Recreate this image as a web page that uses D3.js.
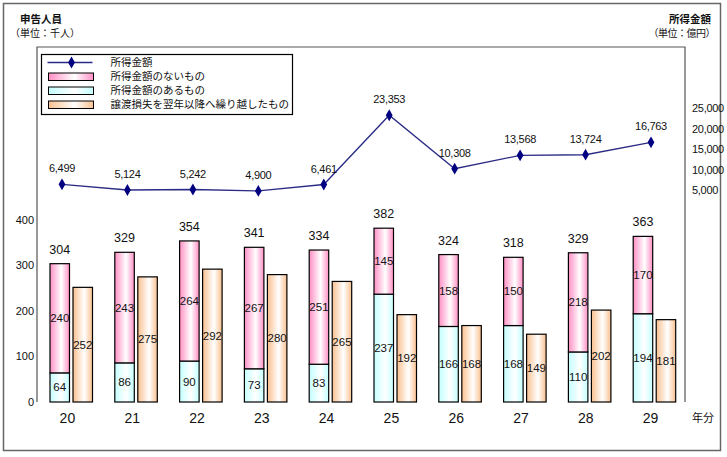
<!DOCTYPE html>
<html>
<head>
<meta charset="utf-8">
<script src="https://cdn.jsdelivr.net/npm/d3@7"></script>
<style>
  body { margin: 0; background: #fff; }
  text { font-family: "Liberation Sans", "Noto Sans CJK JP", sans-serif; }
  .jp { font-family: "Noto Sans CJK JP", sans-serif; }
</style>
</head>
<body>
<svg id="chart"></svg>
<script>
// Data
const years = ["20", "21", "22", "23", "24", "25", "26", "27", "28", "29"];
const withIncome = [64, 86, 90, 73, 83, 237, 166, 168, 110, 194];      // 所得金額のあるもの
const noIncome = [240, 243, 264, 267, 251, 145, 158, 150, 218, 170];   // 所得金額のないもの
const totals = [304, 329, 354, 341, 334, 382, 324, 318, 329, 363];
const carriedLoss = [252, 275, 292, 280, 265, 192, 168, 149, 202, 181]; // 譲渡損失を翌年以降へ繰り越したもの
const incomeAmount = [6499, 5124, 5242, 4900, 6461, 23353, 10308, 13568, 13724, 16763]; // 所得金額(億円)
const leftTicks = [0, 100, 200, 300, 400];
const rightTicks = [5000, 10000, 15000, 20000, 25000];

const width = 727;
const height = 457;
const svg = d3.select("#chart").attr("width", width).attr("height", height);

// Gradients
const defs = svg.append("defs");
function gradient(id, color) {
  const g = defs.append("linearGradient").attr("id", id)
    .attr("x1", "0%").attr("x2", "100%").attr("y1", "0%").attr("y2", "0%");
  g.append("stop").attr("offset", "0%").attr("stop-color", color);
  g.append("stop").attr("offset", "58%").attr("stop-color", "#ffffff");
  g.append("stop").attr("offset", "100%").attr("stop-color", color);
}
gradient("gPink", "#ff8fc4");
gradient("gCyan", "#c4ffff");
gradient("gOrange", "#f9c08f");

// Outer border
svg.append("rect").attr("x", 3.5).attr("y", 3.5).attr("width", 717).attr("height", 447)
  .attr("fill", "none").attr("stroke", "#666").attr("stroke-width", 1.5);

// Scales
const plotLeft = 37, plotRight = 685, plotTop = 47, plotBottom = 402;
const x = d3.scaleBand().domain(years).range([plotLeft, plotRight]);
const xLine = d3.scalePoint().domain(years).range([62, 651]);
const y = d3.scaleLinear().domain([0, 400]).range([plotBottom, 220]);
const y2 = d3.scaleLinear().domain([0, 40000]).range([211, plotTop]);

// Plot frame
svg.append("path")
  .attr("d", `M${plotLeft},${plotBottom}V${plotTop}H${plotRight}V${plotBottom}`)
  .attr("fill", "none").attr("stroke", "#555").attr("stroke-width", 1.2);

// Left axis labels
svg.append("g").selectAll("text").data(leftTicks).join("text")
  .attr("x", 34).attr("y", d => y(d)).attr("dy", "0.35em")
  .attr("text-anchor", "end").attr("font-size", 11).attr("fill", "#111")
  .text(d => d);

// Right axis labels
svg.append("g").selectAll("text").data(rightTicks).join("text")
  .attr("x", 692).attr("y", d => y2(d)).attr("dy", "0.35em")
  .attr("font-size", 11).attr("fill", "#111").attr("letter-spacing", "-0.3")
  .text(d => d3.format(",")(d));

// Bars
const barW = 19.5;
const bars = svg.append("g").attr("stroke", "#000").attr("stroke-width", 1.2);
bars.selectAll(".cyan").data(years).join("rect")
  .attr("x", d => x(d) + 13).attr("width", barW)
  .attr("y", (d, i) => y(withIncome[i])).attr("height", (d, i) => y(0) - y(withIncome[i]))
  .attr("fill", "url(#gCyan)");
bars.selectAll(".pink").data(years).join("rect")
  .attr("x", d => x(d) + 13).attr("width", barW)
  .attr("y", (d, i) => y(withIncome[i] + noIncome[i]))
  .attr("height", (d, i) => y(withIncome[i]) - y(withIncome[i] + noIncome[i]))
  .attr("fill", "url(#gPink)");
bars.selectAll(".orange").data(years).join("rect")
  .attr("x", d => x(d) + 36).attr("width", barW)
  .attr("y", (d, i) => y(carriedLoss[i])).attr("height", (d, i) => y(0) - y(carriedLoss[i]))
  .attr("fill", "url(#gOrange)");

// Bar labels
const labels = svg.append("g").attr("font-size", 11.5).attr("fill", "#111").attr("text-anchor", "middle");
years.forEach((d, i) => {
  const cx = x(d) + 13 + barW / 2;
  const ox = x(d) + 36 + barW / 2;
  labels.append("text").attr("x", cx).attr("y", (y(0) + y(withIncome[i])) / 2).attr("dy", "0.35em").text(withIncome[i]);
  labels.append("text").attr("x", cx).attr("y", (y(withIncome[i]) + y(withIncome[i] + noIncome[i])) / 2).attr("dy", "0.35em").text(noIncome[i]);
  labels.append("text").attr("x", ox).attr("y", (y(0) + y(carriedLoss[i])) / 2).attr("dy", "0.35em").text(carriedLoss[i]);
  labels.append("text").attr("x", cx).attr("y", y(withIncome[i] + noIncome[i]) - 10).attr("font-size", 12.5).text(totals[i]);
});

// Line
const line = d3.line().x((d, i) => xLine(years[i])).y(d => y2(d));
svg.append("path").datum(incomeAmount).attr("d", line)
  .attr("fill", "none").attr("stroke", "#2b2b86").attr("stroke-width", 1.3);
svg.append("g").selectAll("path").data(incomeAmount).join("path")
  .attr("transform", (d, i) => `translate(${xLine(years[i])},${y2(d)})`)
  .attr("d", d3.symbol(d3.symbolDiamond, 40))
  .attr("fill", "#000080");
svg.append("g").selectAll("text").data(incomeAmount).join("text")
  .attr("x", (d, i) => xLine(years[i])).attr("y", d => y2(d) - 12)
  .attr("text-anchor", "middle").attr("font-size", 11).attr("fill", "#111")
  .attr("letter-spacing", "-0.3")
  .text(d => d3.format(",")(d));

// X labels
svg.append("g").selectAll("text").data(years).join("text")
  .attr("x", d => x(d) + x.bandwidth() / 2 - 2).attr("y", 418).attr("dy", "0.35em")
  .attr("text-anchor", "middle").attr("font-size", 14).attr("fill", "#111")
  .text(d => d);
svg.append("text").attr("class", "jp").attr("x", 692).attr("y", 418).attr("dy", "0.35em")
  .attr("font-size", 11).attr("fill", "#111").text("年分");

// Axis titles
svg.append("text").attr("class", "jp").attr("x", 20).attr("y", 19).attr("dy", "0.35em")
  .attr("font-size", 10.5).attr("font-weight", "bold").attr("fill", "#111").text("申告人員");
svg.append("text").attr("class", "jp").attr("x", 10).attr("y", 33).attr("dy", "0.35em")
  .attr("font-size", 10).attr("fill", "#111").text("（単位：千人）");
svg.append("text").attr("class", "jp").attr("x", 711).attr("y", 19).attr("dy", "0.35em")
  .attr("text-anchor", "end")
  .attr("font-size", 10.5).attr("font-weight", "bold").attr("fill", "#111").text("所得金額");
svg.append("text").attr("class", "jp").attr("x", 715).attr("y", 33).attr("dy", "0.35em")
  .attr("text-anchor", "end").attr("letter-spacing", "-0.5")
  .attr("font-size", 10).attr("fill", "#111").text("（単位：億円）");

// Legend
const legendItems = [
  { label: "所得金額", type: "line" },
  { label: "所得金額のないもの", fill: "url(#gPink)" },
  { label: "所得金額のあるもの", fill: "url(#gCyan)" },
  { label: "譲渡損失を翌年以降へ繰り越したもの", fill: "url(#gOrange)" }
];
const legend = svg.append("g").attr("transform", "translate(41.5,54.5)");
legend.append("rect").attr("width", 251).attr("height", 60)
  .attr("fill", "#fff").attr("stroke", "#000").attr("stroke-width", 1.2);
legendItems.forEach((item, i) => {
  const cy = 8 + i * 14;
  if (item.type === "line") {
    legend.append("line").attr("x1", 6).attr("x2", 51).attr("y1", cy).attr("y2", cy)
      .attr("stroke", "#2b2b86").attr("stroke-width", 1.3);
    legend.append("path").attr("transform", `translate(30,${cy})`)
      .attr("d", d3.symbol(d3.symbolDiamond, 40)).attr("fill", "#000080");
  } else {
    legend.append("rect").attr("x", 7).attr("y", cy - 3.5).attr("width", 45).attr("height", 7.5)
      .attr("fill", item.fill).attr("stroke", "#000").attr("stroke-width", 1);
  }
  legend.append("text").attr("class", "jp").attr("x", 69).attr("y", cy).attr("dy", "0.35em")
    .attr("font-size", 10.5).attr("fill", "#111").text(item.label);
});
</script>
</body>
</html>
